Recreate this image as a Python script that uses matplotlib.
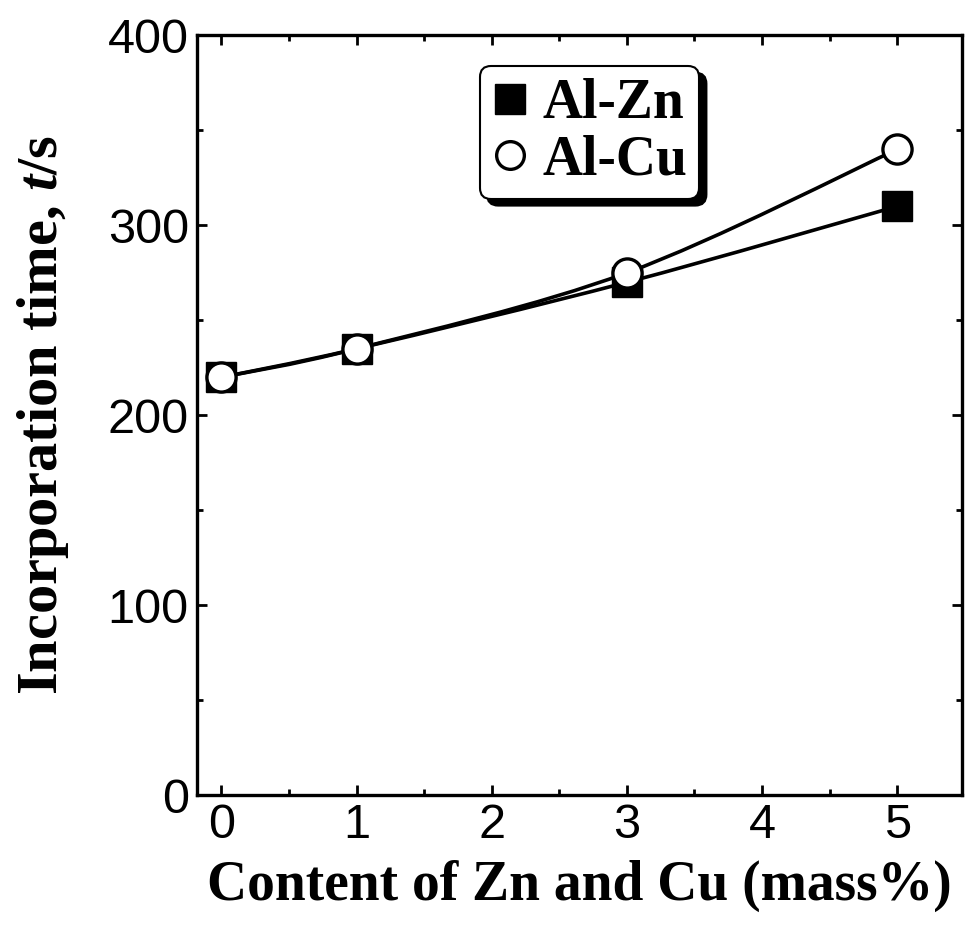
import numpy as np
import matplotlib.pyplot as plt
from matplotlib.path import Path
from matplotlib.patches import PathPatch
from matplotlib.ticker import MultipleLocator

plt.rcParams['font.family'] = ['Liberation Sans', 'DejaVu Sans']
plt.rcParams['mathtext.fontset'] = 'custom'
plt.rcParams['mathtext.bfit'] = 'Liberation Serif:italic:bold'

# Content (mass%) and incorporation time (s)
content = [0, 1, 3, 5]
time_zn = [220, 235, 270, 310]
time_cu = [220, 235, 275, 340]


def smooth_path(x, y):
    # Catmull-Rom style cubic Bezier through the data points
    pts = np.column_stack([x, y]).astype(float)
    n = len(pts)
    verts = [pts[0]]
    codes = [Path.MOVETO]
    for i in range(n - 1):
        p0 = pts[max(i - 1, 0)]
        p1 = pts[i]
        p2 = pts[i + 1]
        p3 = pts[min(i + 2, n - 1)]
        c1 = p1 + (p2 - p0) / 6.0
        c2 = p2 - (p3 - p1) / 6.0
        verts += [c1, c2, p2]
        codes += [Path.CURVE4] * 3
    return Path(verts, codes)


fig = plt.figure(figsize=(9.66, 9.3), dpi=100)
ax = fig.add_axes([0.204, 0.145, 0.792, 0.817])

for ys in (time_zn, time_cu):
    ax.add_patch(PathPatch(smooth_path(content, ys), facecolor='none',
                           edgecolor='black', linewidth=2.6, zorder=2))

ax.plot(content, time_zn, linestyle='none', marker='s', markersize=22,
        color='black', label='Al-Zn', zorder=3)
ax.plot(content, time_cu, linestyle='none', marker='o', markersize=21,
        markerfacecolor='white', markeredgecolor='black', markeredgewidth=2.4,
        label='Al-Cu', zorder=4)

ax.set_xlim(-0.18, 5.48)
ax.set_ylim(0, 400)
ax.xaxis.set_major_locator(MultipleLocator(1))
ax.xaxis.set_minor_locator(MultipleLocator(0.5))
ax.yaxis.set_major_locator(MultipleLocator(100))
ax.yaxis.set_minor_locator(MultipleLocator(50))
ax.tick_params(which='both', direction='in', top=True, right=True, width=2)
ax.tick_params(which='major', length=7, labelsize=35, pad=6)
ax.tick_params(which='minor', length=4)
for s in ax.spines.values():
    s.set_linewidth(2.4)

ax.set_xlabel('Content of Zn and Cu (mass%)', fontsize=40, fontweight='bold',
              family='Liberation Serif', labelpad=8)
ax.set_ylabel('Incorporation time, $\\mathbfit{t}$/s', fontsize=42, fontweight='bold',
              family='Liberation Serif', labelpad=26)

leg = ax.legend(loc='upper left', bbox_to_anchor=(0.37, 0.96), borderaxespad=0,
                prop={'family': 'Liberation Serif', 'weight': 'bold', 'size': 40},
                fancybox=True, shadow={'color': 'black', 'alpha': 1, 'ox': 5, 'oy': -5},
                framealpha=1, edgecolor='black', handlelength=0.65, handletextpad=0.25,
                borderpad=0.22, labelspacing=0.08, markerscale=0.95)
leg.get_frame().set_linewidth(1.5)

plt.savefig('out.png', dpi=100)
